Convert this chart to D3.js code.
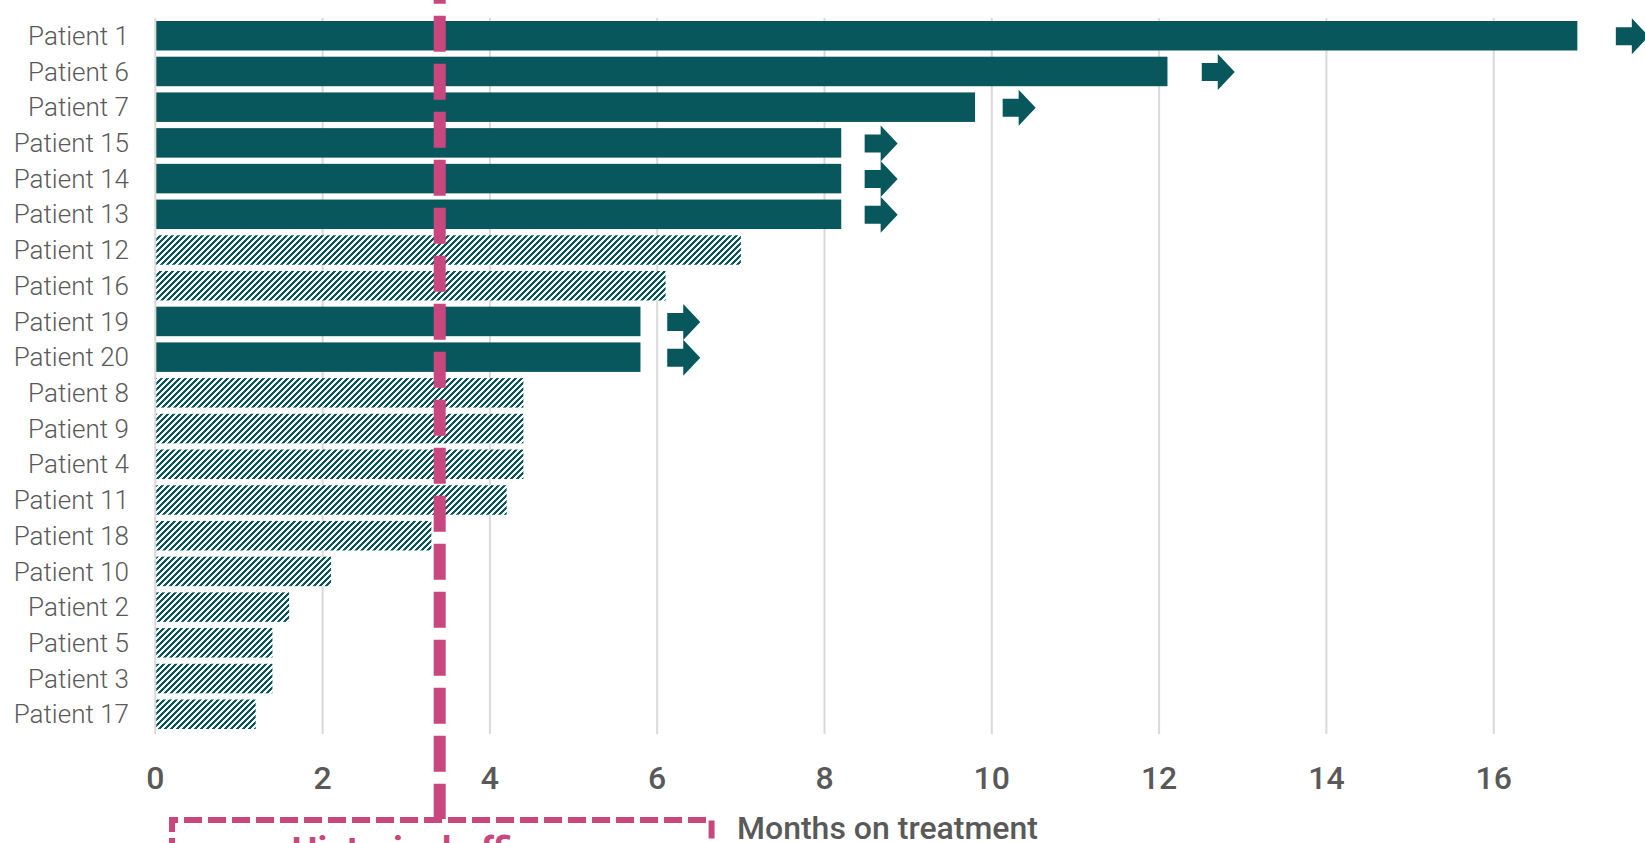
<!DOCTYPE html>
<html>
<head>
<meta charset="utf-8">
<script src="https://cdnjs.cloudflare.com/ajax/libs/d3/7.8.5/d3.min.js"></script>
<style>
  body { margin: 0; background: #fff; overflow: hidden; }
  text { font-family: Roboto, "Open Sans", sans-serif; }
  .ylabel { font-weight: 300; font-size: 26px; fill: #595959; }
  .xtick { font-weight: 500; font-size: 32px; fill: #595959; }
  .xtitle { font-weight: 500; font-size: 32px; fill: #595959; }
  .grid { stroke: #d9d9d9; stroke-width: 2; }
</style>
</head>
<body>
<div id="chart"></div>
<script>
// Data

var patients = ["Patient 1", "Patient 6", "Patient 7", "Patient 15", "Patient 14",
    "Patient 13", "Patient 12", "Patient 16", "Patient 19", "Patient 20",
    "Patient 8", "Patient 9", "Patient 4", "Patient 11", "Patient 18",
    "Patient 10", "Patient 2", "Patient 5", "Patient 3", "Patient 17"];

var months = [17.0, 12.1, 9.8, 8.2, 8.2, 8.2, 7.0, 6.1, 5.8, 5.8,
    4.4, 4.4, 4.4, 4.2, 3.3, 2.1, 1.6, 1.4, 1.4, 1.2];

// still on treatment (solid bar + arrow) vs discontinued (hatched)
var ongoing = [true, true, true, true, true, true, false, false, true, true,
    false, false, false, false, false, false, false, false, false, false];

// where each "continuing" arrow starts, in months
var arrowAt = [17.46, 12.51, 10.13, 8.48, 8.48, 8.48, null, null, 6.12, 6.12,
    null, null, null, null, null, null, null, null, null, null];

var xTicks = [0, 2, 4, 6, 8, 10, 12, 14, 16];

var historicalMonths = 3.4;
var historicalBox = [0.2, 6.65];
var historicalLabel = "Historical efficacy";
var xTitle = "Months on treatment";

var data = patients.map(function(p, i) {
    return {name: p, months: months[i], ongoing: ongoing[i], arrow: arrowAt[i]};
});

// Layout

var width = 1645,
    height = 843;

var teal = "#08575c",
    pink = "#c9477f";

var x = d3.scaleLinear()
    .domain([0, 16])
    .range([155.3, 1493.7]);

var y = d3.scaleBand()
    .domain(patients)
    .range([18, 732])
    .paddingInner(0.174)
    .paddingOuter(0.084);

var svg = d3.select("#chart").append("svg")
    .attr("width", width)
    .attr("height", height);

// hatch pattern for discontinued patients
var pattern = svg.append("defs").append("pattern")
    .attr("id", "hatch")
    .attr("patternUnits", "userSpaceOnUse")
    .attr("width", 6)
    .attr("height", 6);
pattern.append("rect")
    .attr("width", 6).attr("height", 6)
    .attr("fill", "#fff");
pattern.append("path")
    .attr("d", "M-1.5,1.5 L1.5,-1.5 M0,6 L6,0 M4.5,7.5 L7.5,4.5")
    .attr("stroke", teal)
    .attr("stroke-width", 2.5)
    .attr("shape-rendering", "crispEdges");

// gridlines + axis line
svg.append("g").selectAll("line")
    .data(xTicks)
    .enter().append("line")
    .attr("class", "grid")
    .attr("x1", function(d) { return x(d); })
    .attr("x2", function(d) { return x(d); })
    .attr("y1", 18)
    .attr("y2", 734);

// bars
svg.append("g").selectAll(".bar")
    .data(data)
    .enter().append("rect")
    .attr("class", "bar")
    .attr("x", x(0) + 1)
    .attr("y", function(d) { return y(d.name); })
    .attr("width", function(d) { return x(d.months) - x(0) - 1; })
    .attr("height", y.bandwidth())
    .attr("fill", function(d) { return d.ongoing ? teal : "url(#hatch)"; });

// arrows for patients still on treatment
var arrowShape = function(d) {
    var x0 = x(d.arrow),
        cy = y(d.name) + y.bandwidth() / 2 + 0.5;
    return "M" + x0 + "," + (cy - 9) +
        " H" + (x0 + 16) + " V" + (cy - 18) +
        " L" + (x0 + 33) + "," + cy +
        " L" + (x0 + 16) + "," + (cy + 18) +
        " V" + (cy + 9) + " H" + x0 + " Z";
};

svg.append("g").selectAll(".arrow")
    .data(data.filter(function(d) { return d.arrow !== null; }))
    .enter().append("path")
    .attr("class", "arrow")
    .attr("d", arrowShape)
    .attr("fill", teal);

// y labels
svg.append("g").selectAll(".ylabel")
    .data(data)
    .enter().append("text")
    .attr("class", "ylabel")
    .attr("x", 129)
    .attr("y", function(d) { return y(d.name) + y.bandwidth() / 2; })
    .attr("dy", "0.35em")
    .attr("text-anchor", "end")
    .text(function(d) { return d.name; });

// x tick labels
svg.append("g").selectAll(".xtick")
    .data(xTicks)
    .enter().append("text")
    .attr("class", "xtick")
    .attr("x", function(d) { return x(d); })
    .attr("y", 789)
    .attr("text-anchor", "middle")
    .text(function(d) { return d; });

svg.append("text")
    .attr("class", "xtitle")
    .attr("x", 737)
    .attr("y", 839)
    .text(xTitle);

// historical efficacy annotation
var hx = x(historicalMonths);

svg.append("path")
    .attr("d", "M" + x(historicalBox[0]) + ",880 V820 H" + x(historicalBox[1]) + " V880")
    .attr("fill", "none")
    .attr("stroke", pink)
    .attr("stroke-width", 6)
    .attr("stroke-dasharray", "18,6");

svg.append("line")
    .attr("x1", hx).attr("x2", hx)
    .attr("y1", -32.3).attr("y2", 819)
    .attr("stroke", pink)
    .attr("stroke-width", 12)
    .attr("stroke-dasharray", "36,12");

svg.append("text")
    .attr("x", (x(historicalBox[0]) + x(historicalBox[1])) / 2)
    .attr("y", 863)
    .attr("text-anchor", "middle")
    .style("font-size", "37px")
    .style("font-weight", 700)
    .style("fill", pink)
    .text(historicalLabel);
</script>
</body>
</html>
